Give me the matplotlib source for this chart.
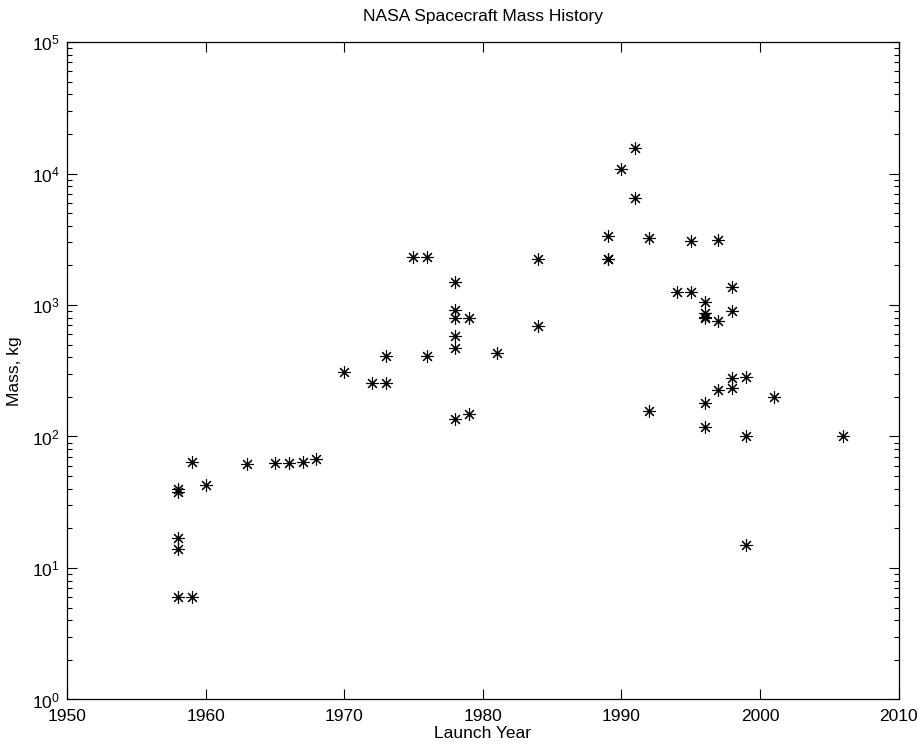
import numpy as np
import matplotlib
matplotlib.use('Agg')
import matplotlib.pyplot as plt
from matplotlib.ticker import LogLocator

plt.rcParams['font.family'] = ['Liberation Sans', 'DejaVu Sans']
plt.rcParams['mathtext.fontset'] = 'custom'
plt.rcParams['mathtext.rm'] = 'Liberation Sans'

# launch year and spacecraft mass [kg]
years = [1958, 1958, 1958, 1958, 1958, 1959, 1959, 1960,
         1963, 1965, 1966, 1967, 1968,
         1970, 1972, 1973, 1973, 1975, 1976, 1976,
         1978, 1978, 1978, 1978, 1978, 1978, 1979, 1979,
         1981, 1984, 1984,
         1989, 1989, 1989, 1990, 1991, 1991, 1992, 1992,
         1994, 1995, 1995, 1996, 1996, 1996, 1996, 1996, 1996,
         1997, 1997, 1997, 1998, 1998, 1998, 1998,
         1999, 1999, 1999, 2001, 2006]
masses = [38, 40, 17, 14, 6, 64, 6, 43,
          62, 63, 63, 64, 67,
          308, 257, 257, 410, 2330, 2330, 410,
          1490, 916, 792, 584, 473, 135, 792, 148,
          429, 2225, 696,
          3350, 2225, 2220, 10890, 15560, 6515, 3214, 157,
          1250, 3050, 1250, 1047, 875, 806, 800, 181, 119,
          3120, 760, 226, 1378, 905, 277, 233,
          285, 100, 15, 201, 100]

fig = plt.figure(figsize=(9.2, 7.45), dpi=100)
ax = fig.add_axes([0.0728, 0.0611, 0.9039, 0.8825])

ax.semilogy(years, masses, linestyle='none', marker=(8, 2, 0),
            markersize=9, markeredgewidth=0.8, color='black')

ax.set_xlim(1950, 2010)
ax.set_ylim(1, 1e5)
ax.set_xticks(np.arange(1950, 2011, 10))
ax.yaxis.set_major_locator(LogLocator(base=10, numticks=10))
ax.yaxis.set_minor_locator(LogLocator(base=10, subs=np.arange(2, 10), numticks=10))

ax.tick_params(which='both', direction='in', top=True, right=True,
               labelsize=12.5, width=0.8)
ax.tick_params(axis='x', pad=7)
ax.tick_params(axis='y', pad=5)
ax.tick_params(which='major', length=7)
ax.tick_params(which='minor', length=3.5)
for s in ax.spines.values():
    s.set_linewidth(0.9)

ax.set_title('NASA Spacecraft Mass History', fontsize=12.5, pad=15)
ax.set_xlabel('Launch Year', fontsize=12.5, labelpad=1)
ax.set_ylabel('Mass, kg', fontsize=12.5, labelpad=7)

plt.savefig('out.png', dpi=100)
